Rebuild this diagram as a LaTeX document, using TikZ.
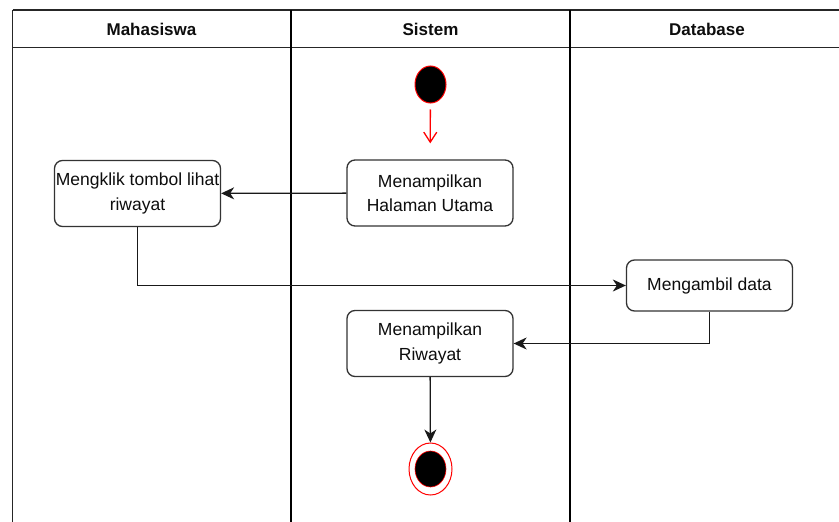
\documentclass[tikz,border=0pt]{standalone}
\usepackage{fontspec}
\setmainfont{Liberation Sans}
\usetikzlibrary{arrows.meta,shapes.geometric}

\tikzset{
  lane/.style={line width=2.7pt, black},
  frame/.style={line width=1.5pt, black!85},
  header/.style={font=\fontsize{17}{20}\selectfont\bfseries, text=black!95, anchor=center},
  action/.style={draw=black!80, line width=1.3pt, rounded corners=8pt, fill=white,
    align=center, font=\fontsize{17.5}{24.5}\selectfont, text=black!95,
    inner sep=0pt, minimum width=166pt},
  flow/.style={draw=black!90, line width=1.3pt,
    -{Stealth[length=13pt,width=12pt,inset=4pt]}},
}

\begin{document}
\begin{tikzpicture}[x=1pt,y=-1pt]
  \useasboundingbox (0,0) rectangle (839,522);
  \fill[white] (0,0) rectangle (839,522);

  % swimlane frame
  \draw[frame] (12.5,10) -- (839,10);
  \draw[frame] (12.5,47.5) -- (839,47.5);
  \draw[line width=1.2pt, black!85] (12.5,10) -- (12.5,522);
  \draw[lane] (291,10) -- (291,522);
  \draw[lane] (570,10) -- (570,522);

  % lane titles
  \node[header] (hm) at (151.5,29) {Mahasiswa};
  \node[header] (hs) at (430.5,29) {Sistem};
  \node[header] (hd) at (707,29) {Database};

  % initial state
  \node[ellipse, draw=red, line width=1pt, fill=black, minimum width=31pt, minimum height=37pt, inner sep=0pt] (start) at (430.5,84.5) {};

  % actions
  \node[action, minimum height=66pt] (klik) at (137.5,193.5) {Mengklik tombol lihat\\riwayat};
  \node[action, minimum height=66pt] (utama) at (430,193) {Menampilkan\\Halaman Utama};
  \node[action, minimum height=51pt] (ambil) at (709.5,285.5) {Mengambil data};
  \node[action, minimum height=66pt] (riwayat) at (430,343.5) {Menampilkan\\Riwayat};

  % final state
  \node[ellipse, draw=red, line width=1pt, fill=white, minimum width=43pt, minimum height=52pt, inner sep=0pt] (final) at (430.5,469) {};
  \node[ellipse, draw=red, line width=0.6pt, fill=black, minimum width=31pt, minimum height=36pt, inner sep=0pt] (finalin) at (final.center) {};

  % control flow
  \draw[red, line width=1.3pt, shorten <=6pt, shorten >=16pt,
    -{Straight Barb[length=10pt,width=13pt]}] (start) -- (utama);
  \draw[flow] (utama) -- (klik);
  \draw[flow] (klik.south) |- (ambil.west);
  \draw[flow] (ambil.south) |- (riwayat.east);
  \draw[flow] (riwayat) -- (final);
\end{tikzpicture}
\end{document}
